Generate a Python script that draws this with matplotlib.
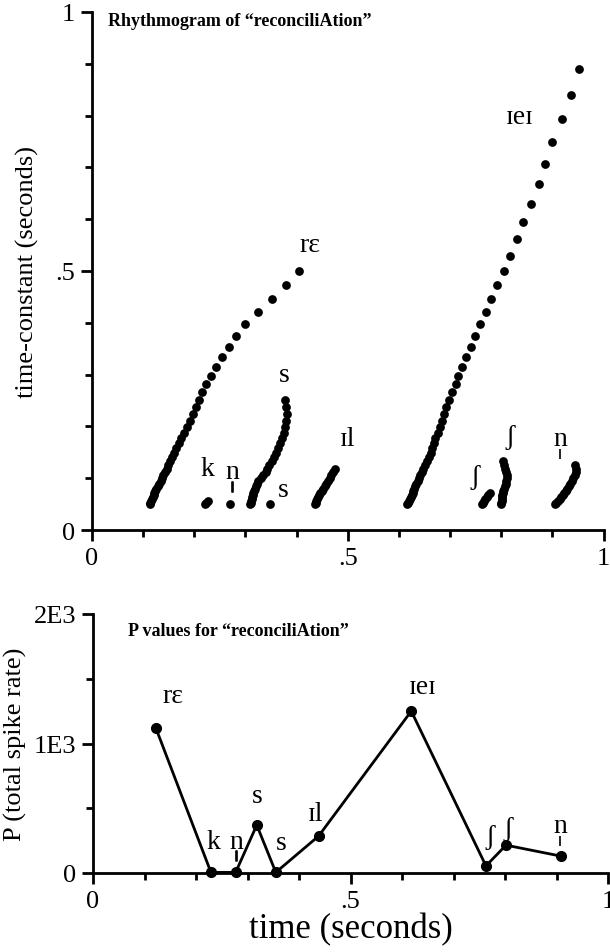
import matplotlib
matplotlib.use("Agg")
import matplotlib.pyplot as plt
import matplotlib.patheffects as pe
from matplotlib.ticker import MultipleLocator, FixedLocator, FixedFormatter

plt.rcParams['font.family'] = ['Liberation Serif', 'DejaVu Serif']

# ---------------- data: rhythmogram ----------------
# time-constant levels (seconds), shared by all clusters
levels = [0.0500, 0.0530, 0.0561, 0.0594, 0.0630, 0.0667, 0.0706, 0.0748, 0.0793, 0.0840,
          0.0889, 0.0942, 0.0998, 0.1057, 0.1120, 0.1186, 0.1256, 0.1331, 0.1410, 0.1493,
          0.1582, 0.1675, 0.1775, 0.1880, 0.1991, 0.2109, 0.2234, 0.2367, 0.2507, 0.2656,
          0.2813, 0.2980, 0.3156, 0.3343, 0.3542, 0.3751, 0.3974, 0.4209, 0.4459, 0.4723,
          0.5003, 0.5299, 0.5614, 0.5946, 0.6299, 0.6672, 0.7067, 0.7486, 0.7930, 0.8400,
          0.8898]

# event times (seconds) at each level, one list per cluster
t_re = [0.113, 0.114, 0.116, 0.117, 0.119, 0.121, 0.122, 0.124, 0.126, 0.129,
        0.131, 0.134, 0.137, 0.139, 0.142, 0.146, 0.149, 0.152, 0.157, 0.161,
        0.165, 0.170, 0.174, 0.179, 0.185, 0.191, 0.197, 0.203, 0.209, 0.215,
        0.223, 0.233, 0.243, 0.254, 0.268, 0.282, 0.299, 0.325, 0.352, 0.379,
        0.405]
t_k = [0.220, 0.223, 0.227]
t_n1 = [0.270]
t_s1 = [0.309, 0.310, 0.311, 0.312, 0.313, 0.314, 0.315, 0.316, 0.318, 0.320,
        0.322, 0.325, 0.330, 0.335, 0.340, 0.343, 0.347, 0.351, 0.355, 0.360,
        0.364, 0.368, 0.372, 0.375, 0.378, 0.380, 0.381, 0.380, 0.378]
t_s2 = [0.348]
t_il = [0.436, 0.437, 0.438, 0.440, 0.442, 0.444, 0.446, 0.449, 0.452, 0.455,
        0.458, 0.461, 0.465, 0.468, 0.472, 0.476]
t_eI = [0.615, 0.617, 0.619, 0.621, 0.623, 0.625, 0.627, 0.628, 0.630, 0.632,
        0.634, 0.637, 0.639, 0.642, 0.645, 0.648, 0.651, 0.654, 0.658, 0.662,
        0.665, 0.668, 0.671, 0.676, 0.680, 0.684, 0.688, 0.692, 0.697, 0.704,
        0.711, 0.716, 0.724, 0.731, 0.741, 0.749, 0.759, 0.770, 0.781, 0.792,
        0.805, 0.817, 0.830, 0.843, 0.858, 0.873, 0.886, 0.899, 0.918, 0.936,
        0.953]
t_sh1 = [0.762, 0.764, 0.766, 0.769, 0.772, 0.775, 0.778]
t_sh2 = [0.800, 0.800, 0.801, 0.801, 0.802, 0.802, 0.803, 0.804, 0.805, 0.807,
         0.809, 0.810, 0.811, 0.811, 0.810, 0.808, 0.806, 0.803]
t_n2 = [0.905, 0.908, 0.911, 0.914, 0.917, 0.920, 0.923, 0.926, 0.929, 0.932,
        0.935, 0.938, 0.941, 0.944, 0.946, 0.946, 0.944]
clusters = [t_re, t_k, t_n1, t_s1, t_s2, t_il, t_eI, t_sh1, t_sh2, t_n2]

# ---------------- data: P values ----------------
p_time = [0.122, 0.229, 0.277, 0.318, 0.355, 0.438, 0.618, 0.763, 0.802, 0.909]
p_val = [1120, 5, 5, 370, 5, 285, 1250, 55, 215, 130]

# labels ("n" entries get a syllabic tick drawn beneath them)
top_labels = ["r\u025b", "s", "k", "n", "s", "\u026al", "\u026ae\u026a", "\u0283", "\u0283", "n"]
top_lab_x = [0.426, 0.375, 0.225, 0.274, 0.373, 0.499, 0.837, 0.749, 0.817, 0.915]
top_lab_y = [0.552, 0.301, 0.118, 0.112, 0.079, 0.176, 0.799, 0.104, 0.181, 0.176]
bot_labels = ["r\u025b", "k", "n", "s", "s", "\u026al", "\u026ae\u026a", "\u0283", "\u0283", "n"]
bot_lab_x = [0.155, 0.233, 0.278, 0.318, 0.365, 0.433, 0.641, 0.771, 0.806, 0.907]
bot_lab_y = [1367, 247, 247, 602, 239, 463, 1444, 278, 340, 363]

x_ticks = [0, 0.5, 1]
x_ticklabels = ["0", ".5", "1"]
y1_ticks = [0, 0.5, 1]
y1_ticklabels = ["0", ".5", "1"]
y2_ticks = [0, 1000, 2000]
y2_ticklabels = ["0", "1E3", "2E3"]

fig = plt.figure(figsize=(6.10, 9.53), dpi=100)
ax1 = fig.add_axes([92 / 610, 1 - 531 / 953, 511.5 / 610, 518 / 953])
ax2 = fig.add_axes([93 / 610, 1 - 874 / 953, 515 / 610, 259 / 953])


def style(ax):
    for s in ["top", "right"]:
        ax.spines[s].set_visible(False)
    for s in ["left", "bottom"]:
        ax.spines[s].set_linewidth(2.0)
    ax.tick_params(which="major", direction="out", length=8, width=2.0, labelsize=19, pad=4)
    ax.tick_params(which="minor", direction="out", length=5, width=2.0)
    ax.xaxis.set_major_locator(FixedLocator(x_ticks))
    ax.xaxis.set_major_formatter(FixedFormatter(x_ticklabels))
    ax.xaxis.set_minor_locator(MultipleLocator(0.1))
    ax.set_xlim(0, 1)


def put_labels(ax, labels, xs, ys):
    for lab, x, y in zip(labels, xs, ys):
        ax.text(x, y, lab, fontsize=20, ha="center", va="center")
        if lab == "n":
            ax.annotate("|", xy=(x, y), xytext=(0, -11), textcoords="offset points",
                        fontsize=8, fontweight="bold", ha="center", va="center",
                        path_effects=[pe.withStroke(linewidth=1.2, foreground="black")])


# top panel
for tc in clusters:
    ax1.plot(tc, levels[:len(tc)], "o", color="black", ms=6.3, mec="none", clip_on=False)
style(ax1)
ax1.set_ylim(0, 1)
ax1.yaxis.set_major_locator(FixedLocator(y1_ticks))
ax1.yaxis.set_major_formatter(FixedFormatter(y1_ticklabels))
ax1.yaxis.set_minor_locator(MultipleLocator(0.1))
ax1.set_ylabel("time-constant (seconds)", fontsize=19, labelpad=12)
ax1.text(0.031, 0.983, "Rhythmogram of \u201creconciliAtion\u201d", fontsize=13,
         fontweight="bold", ha="left", va="center")
put_labels(ax1, top_labels, top_lab_x, top_lab_y)

# bottom panel
ax2.plot(p_time, p_val, "-o", color="black", lw=2.0, ms=7, clip_on=False)
style(ax2)
ax2.set_ylim(0, 2000)
ax2.yaxis.set_major_locator(FixedLocator(y2_ticks))
ax2.yaxis.set_major_formatter(FixedFormatter(y2_ticklabels))
ax2.yaxis.set_minor_locator(MultipleLocator(500))
ax2.set_ylabel("P (total spike rate)", fontsize=19, labelpad=5)
ax2.set_xlabel("time (seconds)", fontsize=25, labelpad=0)
ax2.text(0.068, 1869, "P values for \u201creconciliAtion\u201d", fontsize=13,
         fontweight="bold", ha="left", va="center")
put_labels(ax2, bot_labels, bot_lab_x, bot_lab_y)

fig.savefig("out.png", dpi=100)
